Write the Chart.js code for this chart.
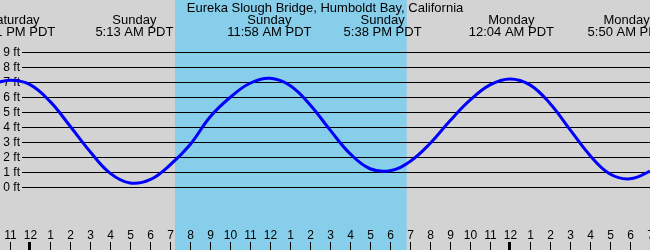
<!DOCTYPE html>
<html>
<head>
<meta charset="utf-8">
<script src="https://cdn.jsdelivr.net/npm/chart.js@4"></script>
<style>
  html, body { margin: 0; padding: 0; background: #d3d3d3; }
  #tide-chart { display: block; }
</style>
</head>
<body>
<canvas id="tide-chart" width="650" height="250"></canvas>
<script>
// hours are counted from Sunday 12:00 AM
const stationName = 'Eureka Slough Bridge, Humboldt Bay, California';

// hourly readings, Saturday 10 PM to Monday 8 AM
const tideHours = [-2, -1, 0, 1, 2, 3, 4, 5, 6, 7, 8, 9, 10, 11, 12, 13, 14, 15, 16, 17,
  18, 19, 20, 21, 22, 23, 24, 25, 26, 27, 28, 29, 30, 31, 32];
const tideFeet = [6.85, 7.15, 6.86, 5.74, 4.1, 2.4, 0.96, 0.3, 0.52, 1.5, 2.85, 4.7, 6.0, 6.95, 7.28, 6.8,
  5.52, 3.84, 2.26, 1.25, 1.12, 1.74, 2.93, 4.45, 5.82, 6.84, 7.24, 6.84, 5.6, 3.86, 2.14, 0.9, 0.58, 1.1, 1.95];

const extremeHours = [-0.82, 5.22, 11.97, 17.63, 24.07, 29.83];
const extremeDays = ['Saturday', 'Sunday', 'Sunday', 'Sunday', 'Monday', 'Monday'];
const extremeTimes = ['11:11 PM PDT', '5:13 AM PDT', '11:58 AM PDT', '5:38 PM PDT', '12:04 AM PDT', '5:50 AM PDT'];

const daylight = [7.25, 18.84];

const feetTicks = [0, 1, 2, 3, 4, 5, 6, 7, 8, 9];
const firstHourTick = -1;
const hourLabels = ['11', '12', '1', '2', '3', '4', '5', '6', '7', '8', '9', '10', '11', '12', '1', '2', '3', '4',
  '5', '6', '7', '8', '9', '10', '11', '12', '1', '2', '3', '4', '5', '6', '7'];
const midnightHours = [0, 24];

const ctx = document.getElementById('tide-chart');

const backdrop = {
  id: 'backdrop',
  beforeDatasetsDraw(chart) {
    const { ctx: c, scales: { x, y } } = chart;
    c.save();
    c.fillStyle = '#d3d3d3';
    c.fillRect(0, 0, chart.width, chart.height);

    const x0 = x.getPixelForValue(daylight[0]);
    const x1 = x.getPixelForValue(daylight[1]);
    c.fillStyle = '#87ceeb';
    c.fillRect(x0, 0, x1 - x0, chart.height);

    c.fillStyle = '#000';
    c.font = '12px "Liberation Sans", Arial, sans-serif';
    c.textAlign = 'right';
    c.textBaseline = 'alphabetic';
    feetTicks.forEach((ft) => {
      const py = Math.floor(y.getPixelForValue(ft));
      c.fillRect(22, py, chart.width - 22, 1);
      c.fillText(ft + ' ft', 20, py + 4);
    });
    c.restore();
  },
  afterDatasetsDraw(chart) {
    const { ctx: c, scales: { x } } = chart;
    c.save();
    c.fillStyle = '#000';
    c.textAlign = 'center';
    c.textBaseline = 'alphabetic';

    c.font = '13px "Liberation Sans", Arial, sans-serif';
    c.fillText(stationName, chart.width / 2, 12);
    extremeHours.forEach((h, i) => {
      const px = x.getPixelForValue(h);
      c.fillText(extremeDays[i], px, 24);
      c.fillText(extremeTimes[i], px, 36);
    });

    c.font = '12px "Liberation Sans", Arial, sans-serif';
    hourLabels.forEach((lbl, i) => {
      const h = firstHourTick + i;
      const px = Math.round(x.getPixelForValue(h));
      c.fillText(lbl, px + 0.5, 239);
      if (midnightHours.includes(h)) {
        c.fillRect(px - 2, 242, 3, 8);
      } else {
        c.fillRect(px, 242, 1, 8);
      }
    });
    c.restore();
  },
};

const tideChart = new Chart(ctx, {
  type: 'line',
  data: {
    datasets: [
      {
        label: 'Tide (ft)',
        data: tideHours.map((h, i) => ({ x: h, y: tideFeet[i] })),
        borderColor: '#0000ff',
        borderWidth: 3,
        pointRadius: 0,
        tension: 0.4,
        fill: false,
      },
    ],
  },
  options: {
    responsive: false,
    animation: false,
    events: [],
    layout: { padding: 0 },
    plugins: { legend: { display: false }, tooltip: { enabled: false } },
    scales: {
      x: { type: 'linear', min: -1.5, max: 31, display: false },
      y: { min: 12.5 - 250 / 15, max: 12.5, display: false },
    },
  },
  plugins: [backdrop],
});
</script>
</body>
</html>
